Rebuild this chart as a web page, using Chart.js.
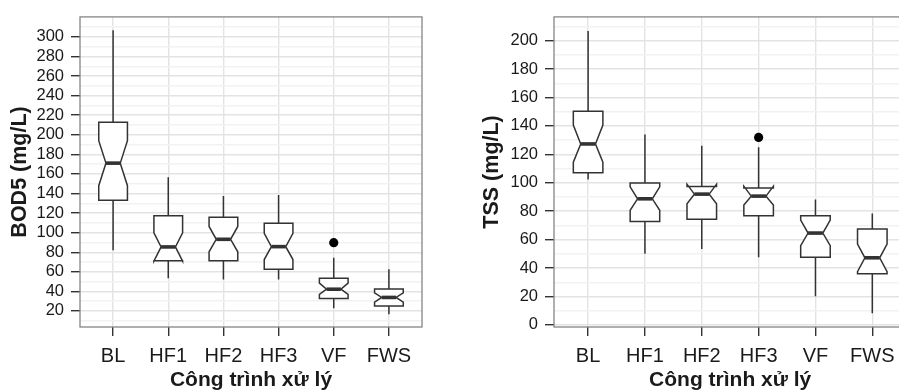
<!DOCTYPE html>
<html>
<head>
<meta charset="utf-8">
<script src="https://cdn.jsdelivr.net/npm/chart.js@4.4.1/dist/chart.umd.min.js"></script>
<style>
  html, body { margin: 0; padding: 0; background: #fff; overflow: hidden; }
  #wrap { position: relative; width: 899px; height: 392px; overflow: hidden; }
  #c1 { position: absolute; left: 0; top: 0; }
  #c2 { position: absolute; left: 450px; top: 0; }
</style>
</head>
<body>
<div id="wrap">
  <canvas id="c1" width="450" height="392"></canvas>
  <canvas id="c2" width="461" height="392"></canvas>
</div>
<script>
// categories (treatment units)
var categories = ["BL", "HF1", "HF2", "HF3", "VF", "FWS"];

// BOD5 (mg/L) boxplot stats
var bodLow     = [82,    53.5,  52,    52,    22.7, 16.7];
var bodQ1      = [133,   71.3,  71.3,  62.5,  32.8, 25];
var bodNotchLo = [148,   71,    80.4,  72.5,  36.8, 29.1];
var bodMed     = [171,   85.4,  93.2,  85.7,  42.2, 33.8];
var bodNotchHi = [194,   99.8,  106.3, 99.3,  48.5, 38.4];
var bodQ3      = [212.9, 117.3, 115.6, 109.6, 53.5, 42.5];
var bodHigh    = [306.7, 156.5, 137.4, 138.4, 74.3, 62.6];
var bodOutCat  = ["VF"];
var bodOutVal  = [89.7];
var bodTicks   = [20, 40, 60, 80, 100, 120, 140, 160, 180, 200, 220, 240, 260, 280, 300];

// TSS (mg/L) boxplot stats
var tssLow     = [102.2, 50,    53.4,  47.6,  20.2, 8.2];
var tssQ1      = [107.1, 72.7,  74.4,  76.7,  47.6, 36];
var tssNotchLo = [114.5, 80.6,  85.2,  84.3,  55.7, 37.5];
var tssMed     = [127.3, 88.7,  92,    90.6,  64.6, 47.2];
var tssNotchHi = [140.6, 97.1,  99,    97.6,  73.7, 56.9];
var tssQ3      = [150.3, 99.9,  97.4,  96.3,  76.7, 67.4];
var tssHigh    = [206.8, 134,   126.1, 125,   88.3, 78.3];
var tssOutCat  = ["HF3"];
var tssOutVal  = [131.9];
var tssTicks   = [0, 20, 40, 60, 80, 100, 120, 140, 160, 180, 200];

var xTitle = "Công trình xử lý";
var FONT = "'Liberation Sans', Arial, Helvetica, sans-serif";

// draws notched boxes from the stats, via the chart's scales
var notchBoxes = {
  id: 'notchBoxes',
  beforeDatasetsDraw: function(chart, args, opts) {
    var ctx = chart.ctx, xs = chart.scales.x, ys = chart.scales.y;
    var s = opts.stats;
    ctx.save();
    ctx.strokeStyle = '#333333';
    ctx.lineJoin = 'miter';
    for (var i = 0; i < categories.length; i++) {
      var cx = xs.getPixelForValue(i + 1);
      var hw = xs.getPixelForValue(i + 1 + 0.26) - cx;
      var nw = hw / 2;
      var yLow = ys.getPixelForValue(s.low[i]), yQ1 = ys.getPixelForValue(s.q1[i]);
      var yNl = ys.getPixelForValue(s.nlo[i]), yMed = ys.getPixelForValue(s.med[i]);
      var yNh = ys.getPixelForValue(s.nhi[i]), yQ3 = ys.getPixelForValue(s.q3[i]);
      var yHigh = ys.getPixelForValue(s.high[i]);
      ctx.lineWidth = 1.5;
      ctx.beginPath();
      ctx.moveTo(cx, yLow); ctx.lineTo(cx, yQ1);
      ctx.moveTo(cx, yQ3); ctx.lineTo(cx, yHigh);
      ctx.stroke();
      ctx.beginPath();
      ctx.moveTo(cx - hw, yQ3);
      ctx.lineTo(cx - hw, yNh);
      ctx.lineTo(cx - nw, yMed);
      ctx.lineTo(cx - hw, yNl);
      ctx.lineTo(cx - hw, yQ1);
      ctx.lineTo(cx + hw, yQ1);
      ctx.lineTo(cx + hw, yNl);
      ctx.lineTo(cx + nw, yMed);
      ctx.lineTo(cx + hw, yNh);
      ctx.lineTo(cx + hw, yQ3);
      ctx.closePath();
      ctx.fillStyle = '#ffffff';
      ctx.fill();
      ctx.stroke();
      ctx.lineWidth = 3.6;
      ctx.beginPath();
      ctx.moveTo(cx - nw, yMed); ctx.lineTo(cx + nw, yMed);
      ctx.stroke();
    }
    ctx.restore();
  },
  afterDraw: function(chart) {
    var a = chart.chartArea, ctx = chart.ctx;
    ctx.save();
    ctx.strokeStyle = '#858585';
    ctx.lineWidth = 1.3;
    ctx.strokeRect(a.left, a.top, a.right - a.left, a.bottom - a.top);
    ctx.restore();
  }
};

function makeChart(id, cfg) {
  var majors = cfg.ticks;
  var step = majors[1] - majors[0];
  var minors = [];
  for (var v = majors[0] - step / 2; v <= cfg.ymax; v += step) {
    if (v >= cfg.ymin) minors.push(v);
  }
  var allTicks = majors.concat(minors).sort(function(a, b) { return a - b; });
  var isMajor = function(v) { return majors.indexOf(v) >= 0; };

  var outPts = cfg.outCat.map(function(c, k) {
    return { x: categories.indexOf(c) + 1, y: cfg.outVal[k] };
  });

  return new Chart(document.getElementById(id).getContext('2d'), {
    type: 'scatter',
    data: {
      datasets: [{
        data: outPts,
        pointRadius: 4.6,
        pointBackgroundColor: '#000000',
        pointBorderWidth: 0
      }]
    },
    plugins: [notchBoxes],
    options: {
      responsive: false,
      animation: false,
      events: [],
      layout: { padding: { left: 0, top: cfg.top, right: cfg.right, bottom: 0 } },
      plugins: {
        legend: { display: false },
        tooltip: { enabled: false },
        notchBoxes: { stats: cfg.stats }
      },
      scales: {
        x: {
          type: 'linear',
          min: 0.4,
          max: 6.6,
          afterBuildTicks: function(scale) {
            scale.ticks = categories.map(function(c, i) { return { value: i + 1 }; });
          },
          afterFit: function(scale) { scale.height = 65; },
          border: { display: false },
          grid: { color: '#e3e3e3', lineWidth: 1.4, tickColor: '#333333', tickLength: 9 },
          ticks: {
            autoSkip: false, maxRotation: 0, padding: 8,
            color: '#1a1a1a',
            font: { family: FONT, size: 20 },
            callback: function(v) { return categories[Math.round(v) - 1]; }
          },
          title: {
            display: true, text: xTitle, color: '#1a1a1a',
            font: { family: FONT, size: 21, weight: 'bold', lineHeight: 1.15 },
            padding: { top: 0, bottom: 0 }
          }
        },
        y: {
          type: 'linear',
          min: cfg.ymin,
          max: cfg.ymax,
          afterBuildTicks: function(scale) {
            scale.ticks = allTicks.map(function(v) { return { value: v }; });
          },
          afterFit: function(scale) { scale.width = cfg.yWidth; },
          border: { display: false },
          grid: {
            lineWidth: 1.4,
            color: function(c) { return isMajor(c.tick.value) ? '#e3e3e3' : '#f2f2f2'; },
            tickColor: function(c) { return isMajor(c.tick.value) ? '#333333' : 'rgba(0,0,0,0)'; },
            tickLength: 9
          },
          ticks: {
            autoSkip: false, padding: 7,
            color: '#1a1a1a',
            font: { family: FONT, size: 16.5 },
            callback: function(v) { return isMajor(v) ? String(v) : ''; }
          },
          title: {
            display: true, text: cfg.yTitle, color: '#1a1a1a',
            font: { family: FONT, size: 21.5, weight: 'bold', lineHeight: 1.2 },
            padding: { top: cfg.yTitlePad, bottom: 0 }
          }
        }
      }
    }
  });
}

var bodChart = makeChart('c1', {
  ticks: bodTicks, ymin: 3.6, ymax: 320.4,
  top: 12, right: 28, yWidth: 80, yTitlePad: 7,
  yTitle: 'BOD5 (mg/L)',
  outCat: bodOutCat, outVal: bodOutVal,
  stats: { low: bodLow, q1: bodQ1, nlo: bodNotchLo, med: bodMed, nhi: bodNotchHi, q3: bodQ3, high: bodHigh }
});

var tssChart = makeChart('c2', {
  ticks: tssTicks, ymin: -1.5, ymax: 216.7,
  top: 14, right: 0, yWidth: 104, yTitlePad: 29,
  yTitle: 'TSS (mg/L)',
  outCat: tssOutCat, outVal: tssOutVal,
  stats: { low: tssLow, q1: tssQ1, nlo: tssNotchLo, med: tssMed, nhi: tssNotchHi, q3: tssQ3, high: tssHigh }
});
</script>
</body>
</html>
